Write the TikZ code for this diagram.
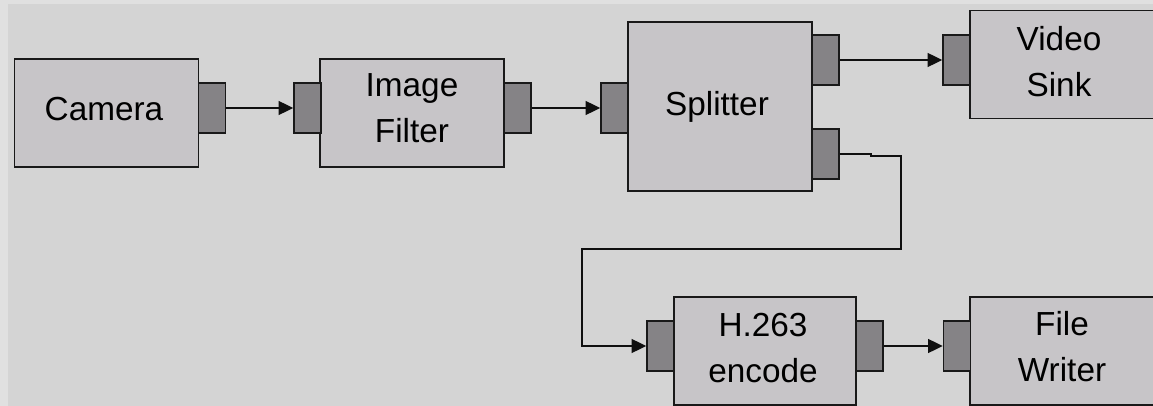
\documentclass[tikz,border=0pt]{standalone}
\usepackage{fontspec}
\setmainfont{Liberation Sans}
\usetikzlibrary{arrows.meta}

\begin{document}
\begin{tikzpicture}[x=0.75pt,y=0.75pt,yscale=-1,xscale=1,
  box/.style={draw={rgb, 255:red, 25; green, 25; blue, 25 }, fill={rgb, 255:red, 199; green, 197; blue, 200 }, line width=1.2pt, minimum width=138pt, minimum height=81pt, inner sep=0pt},
  port/.style={draw={rgb, 255:red, 25; green, 25; blue, 25 }, fill={rgb, 255:red, 133; green, 131; blue, 134 }, line width=1.2pt, minimum width=20.25pt, minimum height=37.5pt, inner sep=0pt},
  flow/.style={draw={rgb, 255:red, 15; green, 15; blue, 15 }, line width=1.1pt, -{Triangle[length=11pt,width=10.5pt]}},
  lbl/.style={font={\fontsize{25}{34.5}\selectfont}, align=center, inner sep=0pt}]
\useasboundingbox (0,0) rectangle (1153,406);

%Background
\fill[fill={rgb, 255:red, 224; green, 224; blue, 224 }] (0,0) rectangle (1153,406);
\fill[fill={rgb, 255:red, 212; green, 212; blue, 212 }] (8,4) rectangle (1153,406);
\clip (0,0) rectangle (1153,406);

%Shape: Rectangle
\node[box] (cam) at (106.5,113) {};
%Shape: Rectangle
\node[box] (filt) at (412,113) {};
%Shape: Rectangle
\node[box, minimum height=127pt] (spl) at (720,106.5) {};
%Shape: Rectangle
\node[box] (sink) at (1062,64.5) {};
%Shape: Rectangle
\node[box, minimum width=136.5pt] (enc) at (765,351) {};
%Shape: Rectangle
\node[box] (write) at (1062,351) {};

%Ports
\node[port] (camOut) at (212,108) {};
\node[port] (filtIn) at (307.5,108) {};
\node[port] (filtOut) at (517.5,108) {};
\node[port] (splIn) at (614.5,108) {};
\node[port] (splOutA) at (825.5,60) {};
\node[port] (splOutB) at (825.5,154) {};
\node[port] (sinkIn) at (956.5,60) {};
\node[port] (encIn) at (660.5,346) {};
\node[port] (encOut) at (869.5,346) {};
\node[port] (writeIn) at (957,346) {};

%Straight Lines
\draw[flow] (camOut.east) -- (filtIn.west);
\draw[flow] (filtOut.east) -- (splIn.west);
\draw[flow] (splOutA.east) -- (sinkIn.west);
\draw[flow] (encOut.east) -- (writeIn.west);
%Elbow Line
\draw[flow] (splOutB.east) -- ++(31,0) -- ++(0,2) -| (901,249) -- (582,249) |- (encIn.west);

% Text Node
\draw (104,109) node[lbl] (camTxt) {Camera};
% Text Node
\draw (412,108) node[lbl] (filtTxt) {Image\\Filter};
% Text Node
\draw (717,107) node[lbl] (splTxt) {Splitter};
% Text Node
\draw (1059,62) node[lbl] (sinkTxt) {Video\\Sink};
% Text Node
\draw (763,348) node[lbl] (encTxt) {H.263\\encode};
% Text Node
\draw (1062,347) node[lbl] (writeTxt) {File\\Writer};

\end{tikzpicture}
\end{document}
